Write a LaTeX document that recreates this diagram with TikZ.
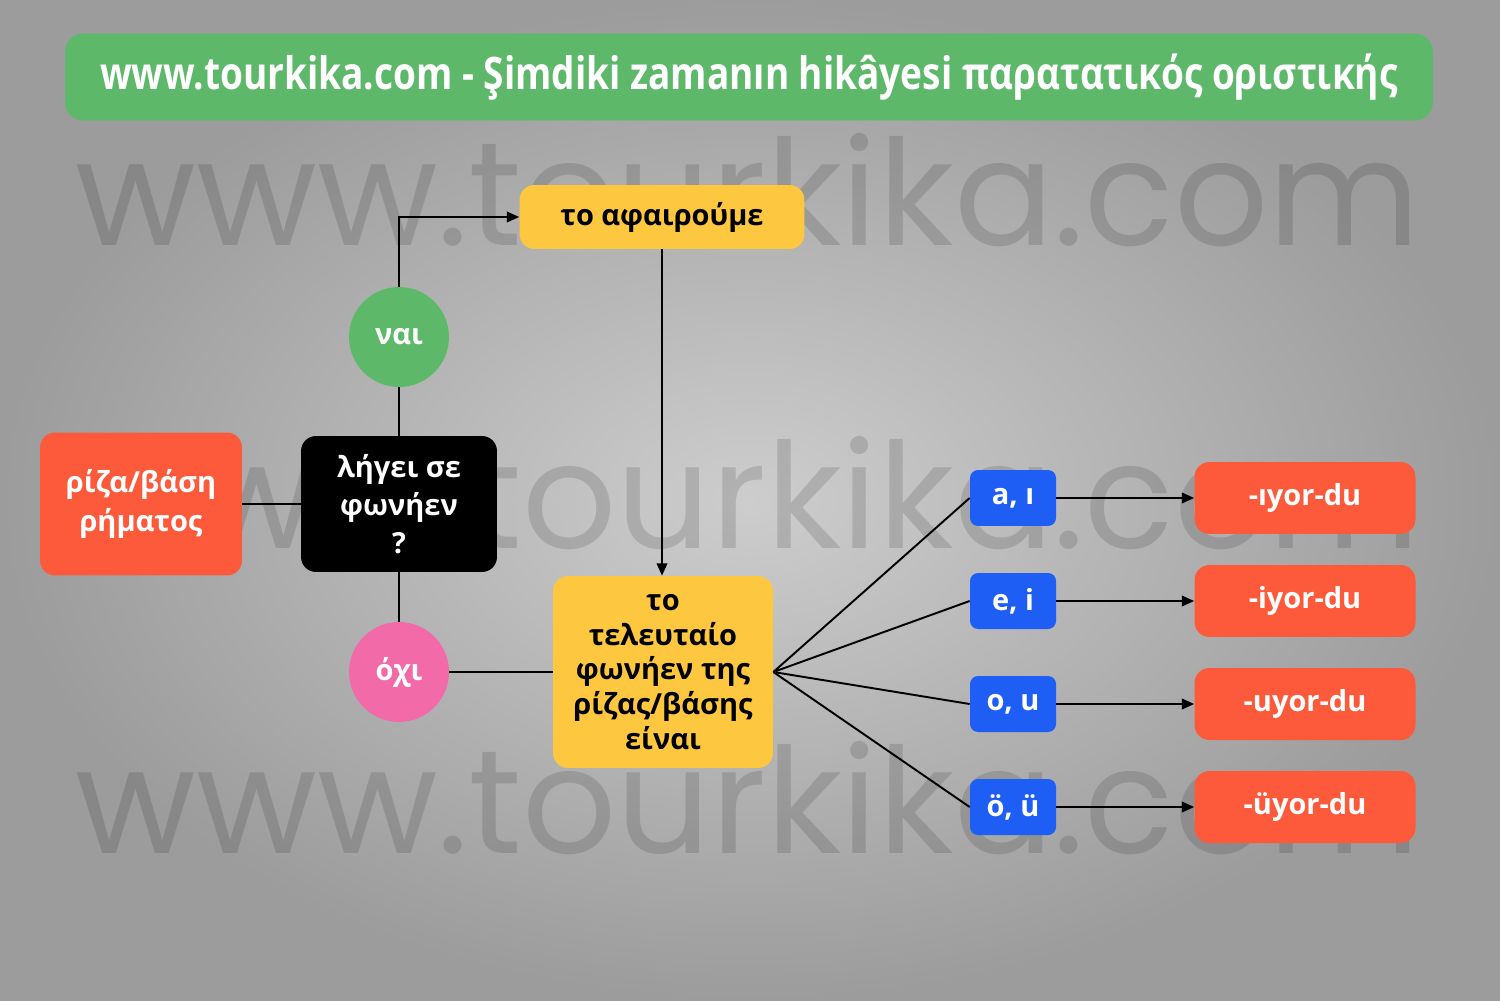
\documentclass[tikz,border=0pt]{standalone}
\usepackage{fontspec}
\setmainfont{Open Sans}
\newfontfamily\wmfont{Poppins}
\usetikzlibrary{arrows.meta}
\definecolor{bginner}{HTML}{CDCDCD}
\definecolor{bgouter}{HTML}{9C9C9C}
\definecolor{titlegreen}{HTML}{5DB86A}
\definecolor{rootred}{HTML}{FC5A3B}
\definecolor{stepyellow}{HTML}{FDC73F}
\definecolor{yesgreen}{HTML}{5DB86A}
\definecolor{nopink}{HTML}{F26BA8}
\definecolor{vowelblue}{HTML}{1F5EF5}
\newcommand{\nodefont}{\fontsize{16.5}{21.8}\selectfont\bfseries}

\tikzset{
  box/.style={rounded corners=0.3cm, inner sep=0pt, align=center, text=white, font=\nodefont},
  rootbox/.style={box, fill=rootred, minimum width=4.04cm, minimum height=2.86cm},
  askbox/.style={box, fill=black, minimum width=3.92cm, minimum height=2.72cm},
  answer/.style={circle, inner sep=0pt, minimum size=2cm, text=white, font=\nodefont},
  stepbox/.style={box, fill=stepyellow, text=black},
  vowelbox/.style={box, rounded corners=0.16cm, fill=vowelblue, minimum width=1.72cm, minimum height=1.12cm},
  endbox/.style={box, fill=rootred, minimum width=4.42cm, minimum height=1.44cm},
  wire/.style={line width=1.1pt},
  arrow/.style={wire, -{Triangle[length=7pt,width=6pt]}},
  mark text/.style={anchor=base west, inner sep=0pt, text=black, opacity=0.13}
}

\begin{document}
\begin{tikzpicture}[x=0.02cm, y=-0.02cm]

    % background and watermark
    \shade[inner color=bginner, outer color=bgouter] (0,0) rectangle (1500,1000);
    \useasboundingbox (0,0) rectangle (1500,1000);
    \foreach \base in {245,548,853}
        \node[mark text] at (75,\base) {\resizebox{26.9cm}{!}{\wmfont www.tourkika.com}};

    % title
    \node[fill=titlegreen, rounded corners=0.36cm, minimum width=27.36cm, minimum height=1.74cm,
          inner sep=0pt, text=white] (title) at (749,77)
        {\resizebox{25.96cm}{\height}{\fontsize{25.5}{30}\selectfont\bfseries www.tourkika.com - Şimdiki zamanın hikâyesi παρατατικός οριστικής}};

    \node[rootbox] (root) at (141,504) {ρίζα/βάση\\ρήματος};
    \node[askbox] (ask) at (399,504) {λήγει σε\\φωνήεν\\?};
    \node[answer, fill=yesgreen] (yes) at (399,337) {ναι};
    \node[answer, fill=nopink] (no) at (399,672) {όχι};
    \node[stepbox, minimum width=5.7cm, minimum height=1.28cm] (drop) at (662,217) {το αφαιρούμε};
    \node[stepbox, minimum width=4.4cm, minimum height=3.84cm, font=\fontsize{16.5}{19.8}\selectfont\bfseries] (last) at (663,672)
        {το\\τελευταίο\\φωνήεν της\\ρίζας/βάσης\\είναι};

    \node[vowelbox] (v1) at (1013,498) {a, ı};
    \node[vowelbox] (v2) at (1013,601) {e, i};
    \node[vowelbox] (v3) at (1013,704) {o, u};
    \node[vowelbox] (v4) at (1013,807) {ö, ü};

    \node[endbox] (e1) at (1305,498) {-ıyor-du};
    \node[endbox] (e2) at (1305,601) {-iyor-du};
    \node[endbox] (e3) at (1305,704) {-uyor-du};
    \node[endbox] (e4) at (1305,807) {-üyor-du};

    \draw[wire] (root) -- (ask);
    \draw[wire] (ask) -- (yes);
    \draw[arrow] (yes.north) |- (drop.west);
    \draw[wire] (ask) -- (no);
    \draw[wire] (no) -- (last);
    \draw[arrow] (drop.south) -- (drop.south |- last.north);
    \foreach \i in {1,...,4} {
        \draw[wire] (last.east) -- (v\i.west);
        \draw[arrow] (v\i) -- (e\i);
    }

\end{tikzpicture}
\end{document}
